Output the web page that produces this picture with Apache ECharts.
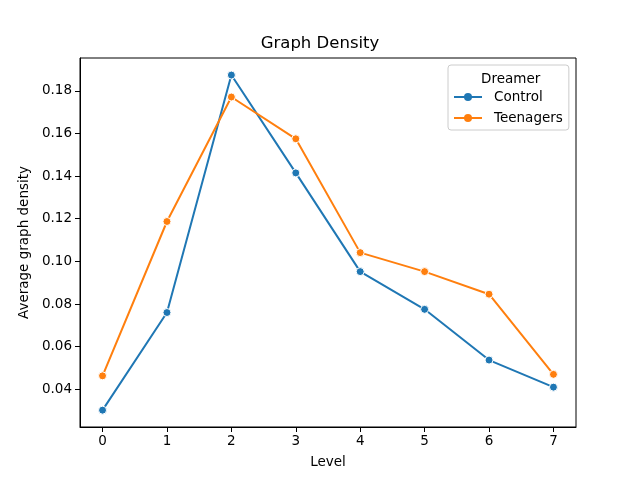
<!DOCTYPE html>
<html>
<head>
<meta charset="utf-8">
<script src="https://cdn.jsdelivr.net/npm/echarts@6/dist/echarts.min.js"></script>
<style>
  html, body { margin: 0; padding: 0; background: #fff; }
  #chart { width: 640px; height: 480px; }
</style>
</head>
<body>
<div id="chart"></div>
<script>
// data
var levels = [0, 1, 2, 3, 4, 5, 6, 7];
var control = [0.0302, 0.0760, 0.1874, 0.1415, 0.0952, 0.0775, 0.0537, 0.0410];
var teenagers = [0.0463, 0.1187, 0.1771, 0.1575, 0.1041, 0.0952, 0.0846, 0.0470];
var yTicks = [0.04, 0.06, 0.08, 0.10, 0.12, 0.14, 0.16, 0.18];

var font = 'DejaVu Sans';

function pairs(xs, ys) {
  return xs.map(function (x, i) { return [x, ys[i]]; });
}

var chart = echarts.init(document.getElementById('chart'));

var option = {
  animation: false,
  backgroundColor: '#fff',
  textStyle: { fontFamily: font, color: '#000' },
  title: [
    {
      text: 'Graph Density',
      left: 'center',
      top: 30,
      textStyle: { fontFamily: font, fontSize: 16.5, fontWeight: 'normal', color: '#000' }
    },
    {
      text: 'Dreamer',
      left: 476,
      top: 67,
      textStyle: { fontFamily: font, fontSize: 13.5, fontWeight: 'normal', color: '#000' }
    }
  ],
  legend: {
    orient: 'vertical',
    left: 448,
    top: 65,
    padding: [25, 6, 5, 5],
    itemGap: 7,
    itemWidth: 28,
    itemHeight: 10,
    borderColor: '#cccccc',
    borderWidth: 1,
    borderRadius: 3,
    backgroundColor: 'rgba(255,255,255,0.8)',
    itemStyle: { borderWidth: 0 },
    textStyle: { fontFamily: font, fontSize: 13.5, color: '#000', padding: [0, 0, 0, 7] },
    data: ['Control', 'Teenagers']
  },
  grid: {
    left: 80,
    right: 64,
    top: 58,
    bottom: 53,
    show: true,
    borderColor: '#000',
    borderWidth: 1,
    backgroundColor: 'transparent'
  },
  xAxis: {
    type: 'value',
    min: -0.35,
    max: 7.35,
    name: 'Level',
    nameLocation: 'middle',
    nameGap: 28,
    nameTextStyle: { fontFamily: font, fontSize: 13.5, color: '#000' },
    axisLine: { show: true, onZero: false, lineStyle: { color: '#000', width: 1 } },
    axisTick: { show: true, length: 5, lineStyle: { color: '#000' }, customValues: levels },
    axisLabel: { fontFamily: font, fontSize: 13.5, color: '#000', margin: 7, customValues: levels },
    splitLine: { show: false }
  },
  yAxis: {
    type: 'value',
    min: 0.0223,
    max: 0.1954,
    name: 'Average graph density',
    nameLocation: 'middle',
    nameGap: 41,
    nameTextStyle: { fontFamily: font, fontSize: 13.5, color: '#000' },
    axisLine: { show: true, onZero: false, lineStyle: { color: '#000', width: 1 } },
    axisTick: { show: true, length: 5, lineStyle: { color: '#000' }, customValues: yTicks },
    axisLabel: {
      fontFamily: font, fontSize: 13.5, color: '#000', margin: 8,
      customValues: yTicks,
      formatter: function (v) { return v.toFixed(2); }
    },
    splitLine: { show: false }
  },
  series: [
    {
      name: 'Control',
      type: 'line',
      data: pairs(levels, control),
      symbol: 'circle',
      symbolSize: 8,
      lineStyle: { color: '#1f77b4', width: 2 },
      itemStyle: { color: '#1f77b4', borderColor: '#fff', borderWidth: 1 }
    },
    {
      name: 'Teenagers',
      type: 'line',
      data: pairs(levels, teenagers),
      symbol: 'circle',
      symbolSize: 8,
      lineStyle: { color: '#ff7f0e', width: 2 },
      itemStyle: { color: '#ff7f0e', borderColor: '#fff', borderWidth: 1 }
    }
  ]
};

chart.setOption(option);
</script>
</body>
</html>
